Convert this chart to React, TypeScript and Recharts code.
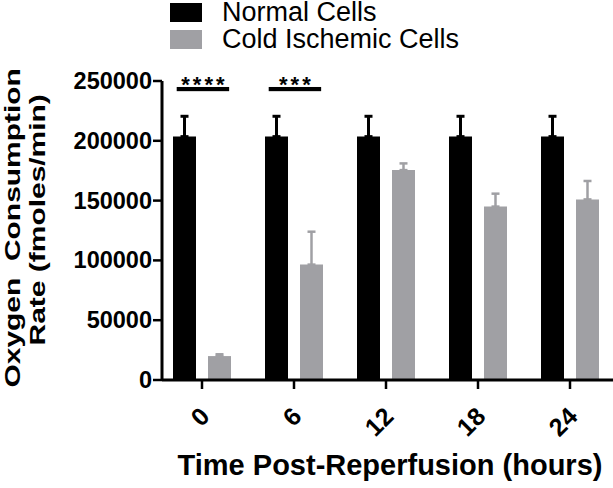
import React from 'react';
import { BarChart, Bar, XAxis, YAxis, ErrorBar, Legend, ReferenceArea } from 'recharts';

const timeLabels = ['0', '6', '12', '18', '24'];
const normalMean = [203500, 203500, 203500, 203500, 203500];
const normalSem = [17000, 17000, 17000, 17000, 17000];
const coldMean = [20000, 96500, 175500, 145000, 151000];
const coldSem = [1500, 27500, 5600, 10800, 15400];
const yTicks = [0, 50000, 100000, 150000, 200000, 250000];
const seriesNames = ['Normal Cells', 'Cold Ischemic Cells'];
const sigTimes = ['0', '6'];
const sigStars = ['****', '***'];
const sigLow = 241500;
const sigHigh = 245000;

const data = timeLabels.map((t, i) => ({
  time: t,
  normal: normalMean[i],
  normalErr: [0, normalSem[i]],
  cold: coldMean[i],
  coldErr: [0, coldSem[i]],
}));

const FONT = '"Liberation Sans", Arial, Helvetica, sans-serif';
const GRAY = '#a0a0a4';

const renderLegend = (props: any) => {
  const payload = [...(props.payload || [])].sort(
    (a: any, b: any) => seriesNames.indexOf(a.value) - seriesNames.indexOf(b.value)
  );
  return (
    <div style={{ fontFamily: FONT, fontSize: 27, color: '#000' }}>
      {payload.map((e: any, i: number) => (
        <div key={i} style={{ position: 'relative', height: 27, lineHeight: '27px', whiteSpace: 'nowrap' }}>
          <span style={{ position: 'absolute', left: 0, top: 4, width: 32, height: 19, background: e.color }} />
          <span style={{ position: 'absolute', left: 52, top: 0 }}>{e.value}</span>
        </div>
      ))}
    </div>
  );
};

const YTick = (props: any) => {
  const { x, y, payload } = props;
  return (
    <text x={x + 7} y={y} dy={8} textAnchor="end" fontFamily={FONT} fontWeight="bold" fontSize={23.5} fill="#000">
      {payload.value}
    </text>
  );
};

const XTick = (props: any) => {
  const { x, y, payload } = props;
  const ax = x + 9;
  const ay = y + 27;
  return (
    <text x={ax} y={ay} transform={`rotate(-45, ${ax}, ${ay})`} textAnchor="end" fontFamily={FONT} fontWeight="bold" fontSize={25} fill="#000">
      {payload.value}
    </text>
  );
};

const YTitle = (props: any) => {
  const { viewBox } = props;
  const cy = viewBox.y + viewBox.height / 2;
  return (
    <g transform={`translate(${viewBox.x}, ${cy}) rotate(-90) scale(1.07, 0.8)`}>
      <text x={2.5} y={25} textAnchor="middle" fontFamily={FONT} fontWeight="bold" fontSize={28} fill="#000" style={{ whiteSpace: 'pre' }}>
        {'Oxygen  Consumption'}
      </text>
      <text x={10} y={56} textAnchor="middle" fontFamily={FONT} fontWeight="bold" fontSize={28} fill="#000">
        Rate (fmoles/min)
      </text>
    </g>
  );
};

const XTitle = (props: any) => {
  const { viewBox } = props;
  return (
    <text x={viewBox.x + viewBox.width / 2 + 4} y={viewBox.y + 95} textAnchor="middle" fontFamily={FONT} fontWeight="bold" fontSize={29} fill="#000">
      Time Post-Reperfusion (hours)
    </text>
  );
};

const makeSigShape = (stars: string) => (props: any) => {
  const { x, y, width, height } = props;
  const lx = x + width * 0.225;
  const lw = width * 0.57;
  return (
    <g>
      <rect x={lx} y={y} width={lw} height={height} fill="#000" />
      <text x={lx + lw / 2 + 1.5} y={y + 5} textAnchor="middle" fontFamily={FONT} fontWeight="bold" fontSize={22} letterSpacing={3} fill="#000">
        {stars}
      </text>
    </g>
  );
};

export default function App() {
  return (
    <div style={{ position: 'absolute', left: 0, top: 0, width: 613, height: 488, overflow: 'hidden', background: '#fff' }}>
      <BarChart
        width={620}
        height={488}
        data={data}
        margin={{ top: 81, right: 4, bottom: 0, left: 0 }}
        barSize={23}
        barGap={12}
      >
        <XAxis
          dataKey="time"
          height={108}
          tick={<XTick />}
          tickSize={9}
          tickLine={{ stroke: '#000', strokeWidth: 2.5 }}
          axisLine={{ stroke: '#000', strokeWidth: 3, strokeDasharray: '0 6 10000' }}
          interval={0}
          label={<XTitle />}
        />
        <YAxis
          width={156}
          domain={[0, 250000]}
          ticks={yTicks}
          interval={0}
          allowDataOverflow
          tick={<YTick />}
          tickSize={9}
          tickLine={{ stroke: '#000', strokeWidth: 2.5, transform: 'translate(6,0)' }}
          axisLine={{ stroke: '#000', strokeWidth: 3, transform: 'translate(6,0)' }}
          label={<YTitle />}
        />
        <Legend
          layout="vertical"
          align="center"
          verticalAlign="middle"
          content={renderLegend}
          wrapperStyle={{ top: -1, left: 170, width: 420, height: 56 }}
        />
        <Bar dataKey="normal" name="Normal Cells" fill="#000" isAnimationActive={false}>
          <ErrorBar dataKey="normalErr" direction="y" width={4} strokeWidth={3} stroke="#000" />
        </Bar>
        <Bar dataKey="cold" name="Cold Ischemic Cells" fill={GRAY} isAnimationActive={false}>
          <ErrorBar dataKey="coldErr" direction="y" width={4} strokeWidth={2.5} stroke={GRAY} />
        </Bar>
        {sigTimes.map((t, i) => (
          <ReferenceArea
            key={t}
            x1={t}
            x2={t}
            y1={sigLow}
            y2={sigHigh}
            ifOverflow="visible"
            shape={makeSigShape(sigStars[i])}
          />
        ))}
      </BarChart>
    </div>
  );
}
